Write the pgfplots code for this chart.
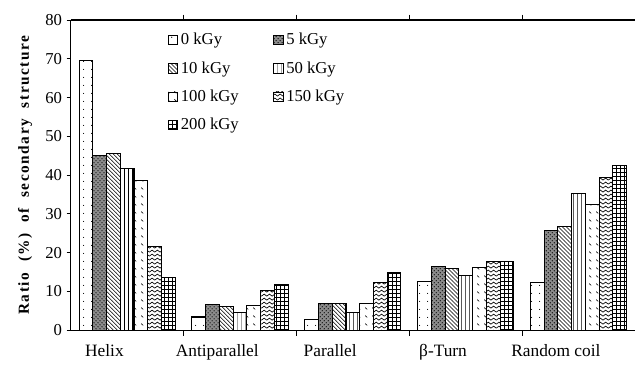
\documentclass[border=0pt]{standalone}
\usepackage{fontspec}
\setmainfont{Liberation Serif}
\usepackage{pgfplots}
\pgfplotsset{compat=1.18}
\usetikzlibrary{patterns,patterns.meta}
\tikzdeclarepattern{name=sparsedots, type=uncolored,
  bounding box={(0,0) and (6pt,6pt)}, tile size={(6pt,6pt)},
  code={\fill (3pt,3pt) circle (0.45pt);}}
\tikzdeclarepattern{name=sparsedash, type=uncolored,
  bounding box={(0,0) and (5pt,6pt)}, tile size={(5pt,6pt)},
  code={\draw[line width=0.5pt] (1pt,4.5pt)--(2.5pt,3pt);}}
\tikzdeclarepattern{name=chevrons, type=uncolored,
  bounding box={(-0.5pt,-0.5pt) and (4.5pt,3.5pt)}, tile size={(4pt,3pt)},
  code={\draw[line width=0.5pt] (0,0.5pt)--(2pt,2pt)--(4pt,0.5pt);}}
\pgfplotstableread{
cat h0 h5 h10 h50 h100 h150 h200
0 69.5 45.0 45.5 41.6 38.5 21.5 13.5
1 3.4 6.5 6.0 4.5 6.3 10.2 11.8
2 2.7 6.8 6.8 4.6 6.8 12.2 14.8
3 12.5 16.4 15.8 14.2 16.1 17.6 17.6
4 12.3 25.6 26.8 35.2 32.4 39.3 42.5
}\datatable
\begin{document}
\begin{tikzpicture}
\begin{axis}[
  scale only axis,
  width=423pt, height=232.5pt,
  ybar=0pt, bar width=10.3pt,
  xmin=-0.5, xmax=4.5, ymin=0, ymax=80,
  axis x line*=box, axis y line*=left,
  axis line style={line width=0.8pt},
  xtick={0,1,2,3,4},
  xticklabels={Helix, Antiparallel, Parallel, β-Turn, Random coil},
  xticklabel style={xshift=-17pt, yshift=-4pt, font=\fontsize{13}{14}\selectfont},
  major x tick style={draw=none},
  minor xtick={0.5,1.5,2.5,3.5},
  minor x tick style={black, line width=0.6pt},
  minor tick length=4pt,
  ytick={0,10,...,80},
  ytick align=outside, ytick pos=left,
  major tick length=3pt,
  y tick style={black, line width=0.6pt},
  yticklabel style={font=\fontsize{12.5}{13}\selectfont},
  /pgf/number format/assume math mode=true,
  ylabel={\addfontfeature{LetterSpace=10}\bfseries Ratio\ \ (\%)\ \ of\ \ secondary\ \ structure},
  ylabel style={font=\fontsize{11.5}{12}\selectfont, yshift=3pt},
  legend style={draw=none, fill=none, at={(0.165,0.975)}, anchor=north west,
    font=\fontsize{12.5}{13}\selectfont, row sep=7pt,
    /tikz/every even column/.append style={column sep=24pt}},
  legend columns=2,
  legend cell align=left,
  legend image code/.code={\draw[#1, line width=0.6pt] (0pt,-3.5pt) rectangle (7pt,3.5pt);},
  every axis plot/.append style={draw=black, line width=0.8pt},
]
\addplot[fill=white, postaction={pattern=sparsedots, pattern color=black}] table[x=cat,y=h0]{\datatable};
\addplot[fill=black!45, postaction={pattern=crosshatch dots, pattern color=black}] table[x=cat,y=h5]{\datatable};
\addplot[pattern=north west lines, pattern color=black] table[x=cat,y=h10]{\datatable};
\addplot[pattern=vertical lines, pattern color=black] table[x=cat,y=h50]{\datatable};
\addplot[fill=white, postaction={pattern=sparsedash, pattern color=black}] table[x=cat,y=h100]{\datatable};
\addplot[fill=white, postaction={pattern=chevrons, pattern color=black}] table[x=cat,y=h150]{\datatable};
\addplot[pattern=grid, pattern color=black] table[x=cat,y=h200]{\datatable};
\legend{0 kGy, 5 kGy, 10 kGy, 50 kGy, 100 kGy, 150 kGy, 200 kGy}
\end{axis}
\pgfresetboundingbox
\path (current axis.south west) ++(-53pt,-29pt) coordinate (bl);
\path (current axis.north east) ++(0pt,15pt) coordinate (tr);
\path[use as bounding box] (bl) rectangle (tr);
\end{tikzpicture}
\end{document}
